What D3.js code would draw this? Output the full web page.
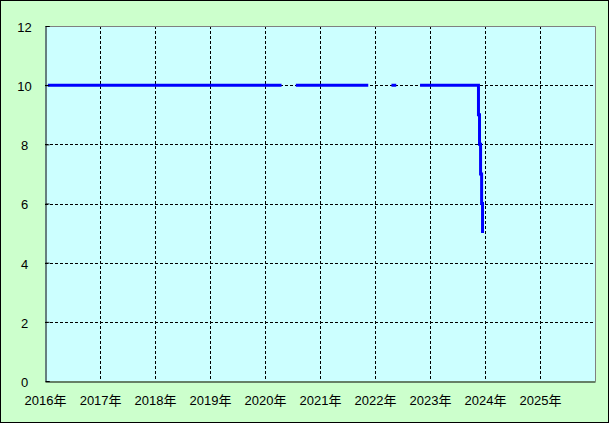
<!DOCTYPE html>
<html>
<head>
<meta charset="utf-8">
<script src="https://d3js.org/d3.v7.min.js"></script>
<style>
    body { margin: 0; background: #fff; }
    svg text { font-family: "Liberation Sans", "Noto Sans CJK JP", sans-serif; font-size: 13px; fill: #000; }
    .grid line { stroke: #000; stroke-width: 1; stroke-dasharray: 3,2; shape-rendering: crispEdges; }
    .grid path { stroke-width: 0; }
</style>
</head>
<body>
<svg width="610" height="424"></svg>
<script>

    // data: break points of the series (null = no data)
    var dates = ["2016-01-20", "2020-04-20", null, "2020-07-24", "2021-11-17", null,
        "2022-04-20", "2022-05-22", null, "2022-10-27", "2023-11-12",
        "2023-11-19", "2023-11-26", "2023-12-03", "2023-12-10", "2023-12-16"];
    var values = [10, 10, null, 10, 10, null,
        10, 10, null, 10, 10,
        9, 8, 7, 6, 5];
    var yearTicks = [2016, 2017, 2018, 2019, 2020, 2021, 2022, 2023, 2024, 2025];
    var yTicks = [0, 2, 4, 6, 8, 10, 12];

    var svg = d3.select("svg"),
        margin = { top: 26, right: 15, bottom: 43, left: 45 },
        width = +svg.attr("width") - margin.left - margin.right,   // 550
        height = +svg.attr("height") - margin.top - margin.bottom; // 355

    var parse = d3.timeParse("%Y-%m-%d");
    var points = dates.map(function (d, i) {
        return { date: d ? parse(d) : null, value: values[i] };
    });

    // outer background + border
    svg.append("rect")
        .attr("x", 0.5).attr("y", 0.5)
        .attr("width", 608).attr("height", 422)
        .attr("fill", "#ccffcc")
        .attr("stroke", "#000");

    var x = d3.scaleTime()
        .domain([new Date(2016, 0, 1), new Date(2026, 0, 1)])
        .range([0, width]);

    var y = d3.scaleLinear()
        .domain([0, 12])
        .range([height, 0]);

    var focus = svg.append("g")
        .attr("transform", "translate(" + margin.left + "," + margin.top + ")");

    focus.append("rect")
        .attr("width", width)
        .attr("height", height)
        .attr("fill", "#ccffff");

    // grid
    focus.append("g")
        .attr("class", "grid")
        .selectAll("line")
        .data(yearTicks.slice(1))
        .enter().append("line")
        .attr("x1", function (d) { return Math.round(x(new Date(d, 0, 1))) + 0.5; })
        .attr("x2", function (d) { return Math.round(x(new Date(d, 0, 1))) + 0.5; })
        .attr("y1", 0)
        .attr("y2", height);

    focus.append("g")
        .attr("class", "grid")
        .selectAll("line")
        .data(yTicks.slice(1, -1))
        .enter().append("line")
        .attr("x1", 0)
        .attr("x2", width)
        .attr("y1", function (d) { return Math.round(y(d)) + 0.5; })
        .attr("y2", function (d) { return Math.round(y(d)) + 0.5; });

    // frame: top/right grey, left/bottom black
    focus.append("path")
        .attr("d", "M0.5,0.5H" + (width + 0.5) + "V" + (height + 0.5))
        .attr("fill", "none")
        .attr("stroke", "#808080");

    var line = d3.line()
        .defined(function (d) { return d.value !== null; })
        .curve(d3.curveStepAfter)
        .x(function (d) { return x(d.date); })
        .y(function (d) { return y(d.value); });

    focus.append("path")
        .datum(points)
        .attr("fill", "none")
        .attr("stroke", "#0000ff")
        .attr("stroke-width", 3)
        .attr("d", line);

    // y axis
    var yAxis = d3.axisLeft(y)
        .tickValues(yTicks)
        .tickSize(-4)
        .tickPadding(0)
        .tickFormat(d3.format("d"));

    var gy = focus.append("g")
        .attr("transform", "translate(0.5,0)")
        .call(yAxis);
    gy.select(".domain").attr("stroke", "#000");
    gy.selectAll(".tick line").attr("stroke", "#000");
    gy.selectAll("text")
        .attr("font-family", null).attr("font-size", null)
        .attr("text-anchor", "middle")
        .attr("x", -21)
        .attr("dy", "0.42em");

    // x axis
    var xAxis = d3.axisBottom(x)
        .tickValues(yearTicks.map(function (d) { return new Date(d, 0, 1); }))
        .tickSize(0)
        .tickPadding(14)
        .tickFormat(function (d) { return d.getFullYear() + "年"; });

    var gx = focus.append("g")
        .attr("transform", "translate(0," + (height + 0.5) + ")")
        .call(xAxis);
    gx.select(".domain").attr("stroke", "#000");
    gx.selectAll("text").attr("font-family", null).attr("font-size", null);

</script>
</body>
</html>
